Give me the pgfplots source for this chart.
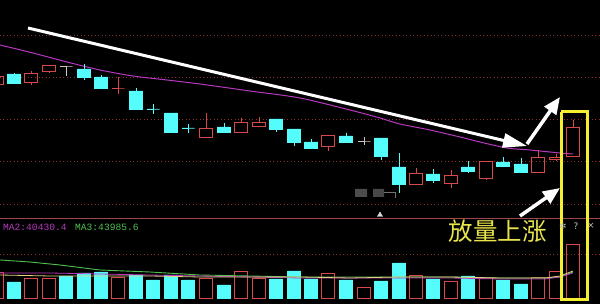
\documentclass[border=0pt]{standalone}
\usepackage{pgfplots}
\pgfplotsset{compat=1.18}
\usetikzlibrary{arrows.meta}
\usepackage{fontspec}
\newfontfamily\cjk{Noto Sans CJK SC}
\newfontfamily\monof{Liberation Mono}
\newfontfamily\dejavu{DejaVu Sans}
\definecolor{cyanc}{HTML}{54FCFC}
\definecolor{redc}{HTML}{D84A4A}
\definecolor{grayc}{HTML}{D0C4C4}
\definecolor{gridc}{HTML}{8A3030}
\definecolor{linec}{HTML}{A04848}
\definecolor{magc}{HTML}{B838C0}
\definecolor{greenc}{HTML}{50C050}
\definecolor{yelc}{HTML}{F4F030}
\definecolor{txtyel}{HTML}{E8E44C}
\definecolor{vyel}{HTML}{E0D080}
% filled candle: color, x, body top, body bottom, high, low (pixel rows)
\newcommand\fc[6]{%
  \pgfmathsetmacro\cxa{#2-6.5}\pgfmathsetmacro\cxb{#2+6.5}%
  \edef\tmp{\noexpand\addplot[#1, line width=0.9pt] coordinates {(#2,#5) (#2,#6)};
    \noexpand\addplot[draw=#1, fill=#1, line width=0.8pt] coordinates {(\cxa,#3) (\cxb,#3) (\cxb,#4) (\cxa,#4) (\cxa,#3)};}\tmp}
% hollow candle
\newcommand\hc[6]{%
  \pgfmathsetmacro\cxa{#2-6.5}\pgfmathsetmacro\cxb{#2+6.5}%
  \edef\tmp{\noexpand\addplot[#1, line width=0.9pt] coordinates {(#2,#5) (#2,#3)};
    \noexpand\addplot[#1, line width=0.9pt] coordinates {(#2,#4) (#2,#6)};
    \noexpand\addplot[draw=#1, line width=0.9pt] coordinates {(\cxa,#3) (\cxb,#3) (\cxb,#4) (\cxa,#4) (\cxa,#3)};}\tmp}
% volume bars
\newcommand\fv[2]{%
  \pgfmathsetmacro\cxa{#1-6.5}\pgfmathsetmacro\cxb{#1+6.5}%
  \edef\tmp{\noexpand\addplot[draw=cyanc, fill=cyanc] coordinates {(\cxa,#2) (\cxb,#2) (\cxb,298) (\cxa,298) (\cxa,#2)};}\tmp}
\newcommand\hv[2]{%
  \pgfmathsetmacro\cxa{#1-6.5}\pgfmathsetmacro\cxb{#1+6.5}%
  \edef\tmp{\noexpand\addplot[draw=redc, line width=0.9pt] coordinates {(\cxa,#2) (\cxb,#2) (\cxb,298) (\cxa,298) (\cxa,#2)};}\tmp}
\begin{document}
\begin{tikzpicture}
\begin{axis}[
  scale only axis, width=600pt, height=304pt,
  xmin=0, xmax=600, ymin=0, ymax=304, y dir=reverse,
  axis line style={draw=none}, ticks=none,
  axis background/.style={fill=black},
  clip=true,
]
% grid lines
\addplot[gridc, line width=0.8pt, dash pattern=on 1pt off 2.5pt] coordinates {(0,35) (600,35)};
\addplot[gridc, line width=0.8pt, dash pattern=on 1pt off 2.5pt] coordinates {(0,77) (600,77)};
\addplot[gridc, line width=0.8pt, dash pattern=on 1pt off 2.5pt] coordinates {(0,119) (600,119)};
\addplot[gridc, line width=0.8pt, dash pattern=on 1pt off 2.5pt] coordinates {(0,161) (600,161)};
\addplot[gridc, line width=0.8pt, dash pattern=on 1pt off 2.5pt] coordinates {(0,204) (600,204)};
\addplot[gridc, line width=0.8pt, dash pattern=on 1pt off 2.5pt] coordinates {(0,254) (600,254)};
\addplot[linec, line width=1pt] coordinates {(0,219) (600,219)};
% blurred labels
\addplot[draw=none, fill=black!70!white] coordinates {(355,189) (367,189) (367,197) (355,197) (355,189)};
\addplot[draw=none, fill=black!72!white] coordinates {(373,189) (384,189) (384,197) (373,197) (373,189)};
\addplot[black!55!white, line width=0.8pt] coordinates {(384,192) (395,192) (395,198)};
\addplot[only marks, mark=triangle*, mark size=3pt, color=black!15!white] coordinates {(380,215)};
% price moving average
\addplot[magc, line width=1pt, smooth] coordinates {(0,45) (33,53) (67,62) (100,70) (133,76) (167,80) (200,84) (250,91) (300,98) (350,110) (380,118) (400,124) (430,130) (460,137) (480,142) (507,148) (530,150) (560,153) (573,154)};
% candles
\hc{redc}{-3}{76}{84}{72}{86}
\fc{cyanc}{14}{74}{83}{73}{84}
\hc{redc}{31}{73}{82}{71}{85}
\hc{redc}{49}{65}{71}{65}{73}
\hc{grayc}{66}{66}{66}{66}{76}
\fc{cyanc}{84}{69}{77}{64}{80}
\fc{cyanc}{101}{77}{88}{75}{89}
\hc{redc}{118}{88}{88}{77}{94}
\fc{cyanc}{136}{91}{109}{88}{110}
\fc{cyanc}{153}{109}{109}{104}{114}
\fc{cyanc}{171}{113}{132}{113}{133}
\fc{cyanc}{188}{128}{128}{124}{133}
\hc{redc}{206}{128}{137}{113}{137}
\fc{cyanc}{224}{127}{132}{123}{133}
\hc{redc}{241}{122}{132}{118}{132}
\hc{redc}{259}{122}{126}{117}{126}
\fc{cyanc}{276}{119}{129}{119}{132}
\fc{cyanc}{294}{129}{142}{129}{146}
\fc{cyanc}{311}{142}{148}{139}{148}
\hc{redc}{328}{135}{146}{135}{151}
\fc{cyanc}{346}{136}{142}{133}{143}
\hc{grayc}{364}{141}{141}{137}{145}
\fc{cyanc}{381}{138}{156}{138}{160}
\fc{cyanc}{399}{167}{184}{153}{193}
\hc{redc}{416}{173}{184}{168}{184}
\fc{cyanc}{433}{174}{180}{169}{183}
\hc{redc}{451}{175}{183}{170}{188}
\fc{cyanc}{468}{167}{171}{161}{173}
\hc{redc}{486}{161}{178}{161}{180}
\fc{cyanc}{503}{162}{166}{157}{166}
\fc{cyanc}{521}{164}{172}{158}{172}
\hc{redc}{538}{157}{172}{150}{172}
\hc{redc}{556}{157}{159}{154}{161}
\hc{redc}{573}{127}{156}{120}{156}
% volume bars
\hv{-3}{272}
\fv{14}{282}
\hv{31}{278}
\hv{49}{278}
\fv{66}{276}
\fv{84}{273}
\fv{101}{272}
\hv{118}{277}
\fv{136}{275}
\fv{153}{280}
\fv{171}{275}
\fv{188}{280}
\hv{206}{278}
\fv{224}{285}
\hv{241}{271}
\hv{259}{278}
\fv{276}{279}
\fv{294}{271}
\fv{311}{279}
\hv{328}{273}
\fv{346}{280}
\hv{364}{287}
\fv{381}{281}
\fv{399}{263}
\hv{416}{275}
\fv{433}{279}
\hv{451}{281}
\fv{468}{276}
\hv{486}{278}
\fv{503}{280}
\fv{521}{284}
\hv{538}{277}
\hv{556}{271}
\hv{573}{244}
% volume moving averages
\addplot[greenc, line width=0.9pt] coordinates {(0,260) (30,262) (60,265) (100,270) (150,272) (200,275) (250,276) (300,277) (350,277) (400,277) (450,277) (500,278) (545,278) (560,277) (573,272)};
\addplot[magc, line width=0.8pt] coordinates {(0,273) (50,273) (100,274) (150,275) (200,276) (250,277) (300,278) (350,278) (400,278) (450,278) (500,279) (545,279) (560,277) (573,273)};
\addplot[vyel, line width=0.8pt] coordinates {(0,275) (50,276) (100,276) (150,276) (200,277) (250,277) (300,277) (350,278) (400,277) (450,277) (500,278) (545,278) (560,276) (573,271)};
% arrows
\addplot[white, line width=3pt, -{Triangle[length=24pt,width=14pt]}] coordinates {(28,28) (527,146)};
\addplot[white, line width=3.5pt, -{Triangle[length=17pt,width=14pt]}] coordinates {(527,144) (560,97)};
\addplot[white, line width=3.5pt, -{Triangle[length=17pt,width=14pt]}] coordinates {(520,216) (560,188)};
% highlight box
\addplot[yelc, line width=3pt] coordinates {(561,112) (587,112) (587,300) (561,300) (561,112)};
% texts
\node[anchor=west, text=magc, font=\monof\fontsize{9.6}{9.6}\selectfont, inner sep=0pt] at (axis cs:3,227) {MA2:40430.4};
\node[anchor=west, text=greenc, font=\monof\fontsize{9.6}{9.6}\selectfont, inner sep=0pt] at (axis cs:75,227) {MA3:43985.6};
\node[text=txtyel, font=\cjk\fontsize{24.5}{24.5}\selectfont, inner sep=0pt] at (axis cs:497.5,231) {放量上涨};
\node[text=black!25!white, font=\dejavu\fontsize{9}{9}\selectfont, inner sep=0pt] at (axis cs:563,226) {✲};
\node[text=black!25!white, font=\dejavu\fontsize{9}{9}\selectfont, inner sep=0pt] at (axis cs:576,226) {?};
\node[text=black!25!white, font=\dejavu\fontsize{9}{9}\selectfont, inner sep=0pt] at (axis cs:591,226) {×};
\end{axis}
\end{tikzpicture}
\end{document}
